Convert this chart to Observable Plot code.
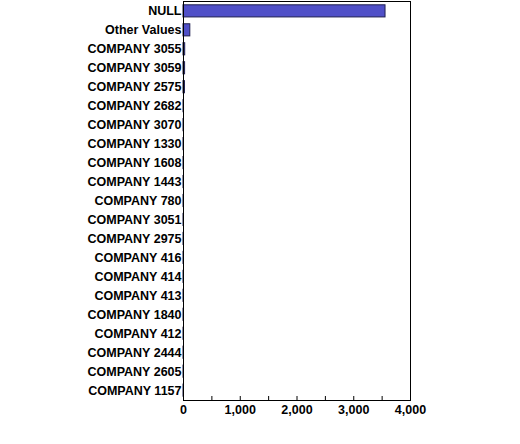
<!DOCTYPE html>
<html>
<head>
<meta charset="utf-8">
<script src="https://cdn.jsdelivr.net/npm/d3@7"></script>
<script src="https://cdn.jsdelivr.net/npm/@observablehq/plot@0.6"></script>
<style>
  html, body { margin: 0; padding: 0; background: #fff; }
  svg { display: block; }
</style>
</head>
<body>
<div id="chart"></div>
<script>
const categories = ["NULL", "Other Values", "COMPANY 3055", "COMPANY 3059", "COMPANY 2575", "COMPANY 2682", "COMPANY 3070", "COMPANY 1330", "COMPANY 1608", "COMPANY 1443", "COMPANY 780", "COMPANY 3051", "COMPANY 2975", "COMPANY 416", "COMPANY 414", "COMPANY 413", "COMPANY 1840", "COMPANY 412", "COMPANY 2444", "COMPANY 2605", "COMPANY 1157"];
const counts = [3560, 120, 30, 28, 26, 8, 7, 7, 6, 6, 5, 5, 5, 4, 4, 4, 4, 3, 3, 3, 3];
const labelTicks = [0, 1000, 2000, 3000, 4000];
const minorTicks = [0, 500, 1000, 1500, 2000, 2500, 3000, 3500, 4000];

const data = categories.map((c, i) => ({category: c, count: counts[i]}));

const chart = Plot.plot({
  width: 520,
  height: 444,
  marginLeft: 183,
  marginRight: 110,
  marginTop: 1,
  marginBottom: 44,
  style: {fontFamily: "Liberation Sans, Arial, sans-serif", fontSize: "12.5px", fontWeight: "bold", color: "#000", overflow: "visible"},
  x: {domain: [0, 4000]},
  y: {domain: categories, paddingInner: 0.36, paddingOuter: 0.2, round: false},
  marks: [
    Plot.barX(data, {x: "count", y: "category", fill: "#5050C8", stroke: "#202050", strokeWidth: 1}),
    Plot.frame({stroke: "#000", strokeWidth: 1}),
    Plot.axisY({tickSize: 0, tickPadding: 2, label: null, fontSize: 12.5, fontWeight: "bold"}),
    Plot.axisX({ticks: labelTicks, tickSize: 0, tickPadding: 5, tickFormat: d3.format(","), label: null, fontSize: 12.5, fontWeight: "bold"}),
    Plot.axisX({ticks: minorTicks, tickSize: -4, tickFormat: () => "", label: null})
  ]
});
document.getElementById("chart").appendChild(chart);
</script>
</body>
</html>
